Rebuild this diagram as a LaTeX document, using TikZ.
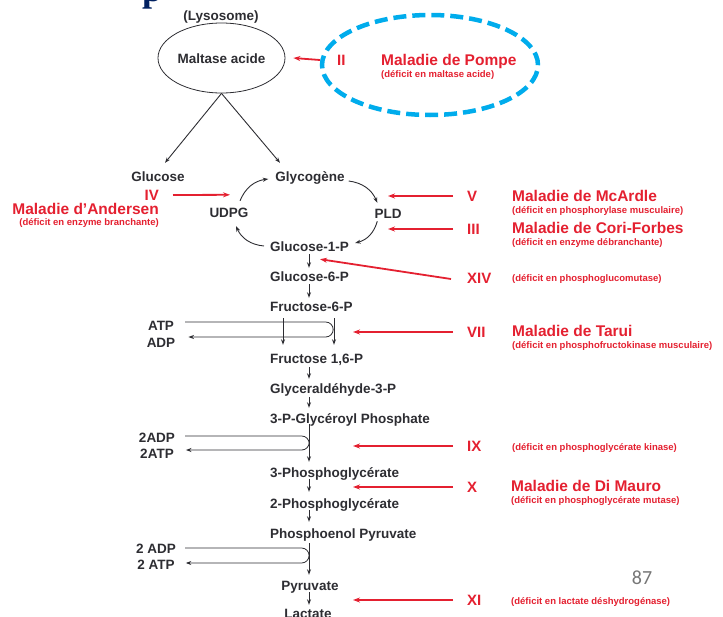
\documentclass[tikz,border=0pt]{standalone}
\usepackage{fontspec}
\setmainfont{Liberation Sans}
\newfontfamily\titleserif{Liberation Serif}
\newfontfamily\slidenum{Carlito}
\usetikzlibrary{arrows.meta,shapes.geometric}

\definecolor{ink}{RGB}{45,45,50}
\definecolor{redc}{RGB}{228,32,48}
\definecolor{ringblue}{RGB}{0,172,236}
\definecolor{navy}{RGB}{0,32,96}
\definecolor{pagegray}{RGB}{118,118,118}

\begin{document}
\begin{tikzpicture}[x=1pt,y=-1pt,
  lbl/.style={font=\bfseries\fontsize{13.5}{15}\selectfont, text=ink,
              inner sep=0pt, text height=10pt, text depth=0pt},
  rtitle/.style={font=\bfseries\fontsize{15.5}{17}\selectfont, text=redc,
              inner sep=0pt, text height=11pt, text depth=0pt},
  rsub/.style={font=\bfseries\fontsize{9.5}{11}\selectfont, text=redc,
              inner sep=0pt, text height=7pt, text depth=0pt},
  rom/.style={font=\bfseries\fontsize{15}{17}\selectfont, text=redc,
              inner sep=0pt, text height=11pt, text depth=0pt, anchor=west},
  blk/.style={draw=ink, line width=0.9pt, -{Stealth[length=5.5pt,width=4pt]}},
  loopln/.style={draw=ink, line width=0.8pt, rounded corners=7.5pt,
              -{Stealth[length=5.5pt,width=4pt]}},
  redarr/.style={draw=redc, line width=1.8pt, -{Stealth[length=7pt,width=5pt]}},
  cyc/.style={draw=ink, line width=0.9pt, bend left=30, -{Stealth[length=5.5pt,width=4pt]}}]

\useasboundingbox (0,0) rectangle (723,616);

% cut-off title above the figure
\node[font=\titleserif\bfseries\fontsize{36}{40}\selectfont, text=navy,
      anchor=base west, inner sep=0pt] (ttl) at (142,1) {p};

% lysosomal branch
\node[lbl] (lys) at (221,15) {(Lysosome)};
\node[lbl, draw=ink, line width=0.8pt, ellipse, minimum width=127pt,
      minimum height=70pt] (malt) at (221.5,58) {Maltase acide};

% Pompe disease, ringed
\draw[draw=ringblue, line width=4.5pt, dash pattern=on 13pt off 6pt]
  (430,65) ellipse [x radius=108pt, y radius=50pt];
\node[rom] (ii) at (337,60) {II};
\node[rtitle, anchor=west] (pompe) at (381,60) {Maladie de Pompe};
\node[rsub, anchor=west] (pompes) at (381,74) {(déficit en maltase acide)};
\draw[redarr] ([xshift=-17pt]ii.west) -- ([xshift=8pt]malt.east);

% glycogen cycle
\node[lbl] (gluc) at (158,176) {Glucose};
\node[lbl] (glyc) at (310,176) {Glycogène};
\node[lbl] (udpg) at (229,212) {UDPG};
\node[lbl] (pld)  at (388,213) {PLD};
\node[lbl, anchor=west] (g1p) at (270,246) {Glucose-1-P};

\draw[blk] (malt.south) -- ([shift={(7,-8)}]gluc.north);
\draw[blk] (malt.south) -- ([shift={(-30,-8)}]glyc.north);

\draw[cyc] ([shift={(4,5)}]glyc.east) to ([shift={(3,-5)}]pld.north west);
\draw[cyc] ([shift={(3,3)}]pld.south west) to ([shift={(6,-3)}]g1p.east);
\draw[cyc] ([shift={(-6,0)}]g1p.west) to ([shift={(7,9)}]udpg.south);
\draw[cyc] ([shift={(11,-6)}]udpg.north) to ([shift={(-7,3)}]glyc.west);

% main pathway
\coordinate (ax) at (309,0);
\coordinate (barL) at (283,0);
\coordinate (barR) at (334,0);
\coordinate (tipx) at (353,0);

\node[lbl, anchor=west] (g6p)  at (270,276) {Glucose-6-P};
\node[lbl, anchor=west] (f6p)  at (270,306) {Fructose-6-P};
\node[lbl, anchor=west] (f16p) at (270,358) {Fructose 1,6-P};
\node[lbl, anchor=west] (gap)  at (270,388) {Glyceraldéhyde-3-P};
\node[lbl, anchor=west] (pgp)  at (270,418) {3-P-Glycéroyl Phosphate};
\node[lbl, anchor=west] (pg3)  at (270,472) {3-Phosphoglycérate};
\node[lbl, anchor=west] (pg2)  at (270,503) {2-Phosphoglycérate};
\node[lbl, anchor=west] (pep)  at (270,533) {Phosphoenol Pyruvate};
\node[lbl] (pyr) at (310,585) {Pyruvate};
\node[lbl] (lac) at (308,613) {Lactate};

\draw[blk, shorten <=3pt, shorten >=3pt] (g1p.south -| ax) -- (g6p.north -| ax);
\draw[blk, shorten <=3pt, shorten >=3pt] (g6p.south -| ax) -- (f6p.north -| ax);
\draw[blk, shorten <=7pt, shorten >=8pt] (f6p.south -| barL) -- (f16p.north -| barL);
\draw[blk, shorten <=7pt, shorten >=8pt] (f6p.south -| barR) -- (f16p.north -| barR);
\draw[blk, shorten <=4pt, shorten >=4pt] (f16p.south -| ax) -- (gap.north -| ax);
\draw[blk, shorten <=4pt, shorten >=5pt] (gap.south -| ax) -- (pgp.north -| ax);
\draw[blk, shorten <=1pt, shorten >=5pt] (pgp.south -| ax) -- (pg3.north -| ax);
\draw[blk, shorten <=2pt, shorten >=6pt] (pg3.south -| ax) -- (pg2.north -| ax);
\draw[blk, shorten <=2pt, shorten >=6pt] (pg2.south -| ax) -- (pep.north -| ax);
\draw[blk, shorten <=5pt, shorten >=5pt] (pep.south -| ax) -- (pyr.north -| ax);
\draw[blk, shorten <=2pt, shorten >=3pt] (pyr.south -| ax) -- (lac.north -| ax);

% cofactor loops
\node[lbl] (atp)   at (161,325) {ATP};
\node[lbl] (adp)   at (161,342) {ADP};
\node[lbl] (adp2)  at (157,437) {2ADP};
\node[lbl] (atp2)  at (157,453) {2ATP};
\node[lbl] (adp2s) at (156,548) {2 ADP};
\node[lbl] (atp2s) at (156,564) {2 ATP};

\draw[loopln] ([shift={(11,-3)}]atp.east) -- ++(148,0) |- ([shift={(13,-5)}]adp.east);
\draw[loopln] ([shift={(10,-1)}]adp2.east) -- ++(124,0) |- ([shift={(12,-3)}]atp2.east);
\draw[loopln] ([shift={(9,0)}]adp2s.east) -- ++(124,0) |- ([shift={(11,-1)}]atp2s.east);

% Andersen disease
\node[rom, anchor=east] (iv) at (159,195) {IV};
\node[rtitle, anchor=east] (anders) at (159,209) {Maladie d'Andersen};
\node[rsub, anchor=east] (anderss) at (159,222) {(déficit en enzyme branchante)};
\draw[redarr] ([xshift=14pt]iv.east) -- ([shift={(1,-12)}]udpg.north);

% McArdle disease
\node[rom] (v) at (467,196) {V};
\node[rtitle, anchor=west] (mcard) at (512,196) {Maladie de McArdle};
\node[rsub, anchor=west] (mcards) at (512,210) {(déficit en phosphorylase musculaire)};
\draw[redarr] ([xshift=-14pt]v.west) -- (pld |- v.west);

% Cori-Forbes disease
\node[rom] (iii) at (467,229) {III};
\node[rtitle, anchor=west] (cori) at (512,228) {Maladie de Cori-Forbes};
\node[rsub, anchor=west] (coris) at (512,242) {(déficit en enzyme débranchante)};
\draw[redarr] ([xshift=-14pt]iii.west) -- (pld |- iii.west);

% phosphoglucomutase deficiency
\node[rom] (xiv) at (467,278) {XIV};
\node[rsub, anchor=west] (xivs) at (512,278) {(déficit en phosphoglucomutase)};
\draw[redarr] ([shift={(-16,1)}]xiv.west) -- ([shift={(50,8)}]g1p.south west);

% Tarui disease
\node[rom] (vii) at (467,332) {VII};
\node[rtitle, anchor=west] (tarui) at (512,331) {Maladie de Tarui};
\node[rsub, anchor=west] (taruis) at (512,345) {(déficit en phosphofructokinase musculaire)};
\draw[redarr] ([xshift=-14pt]vii.west) -- (tipx |- vii.west);

% phosphoglycerate kinase deficiency
\node[rom] (ix) at (467,446) {IX};
\node[rsub, anchor=west] (ixs) at (512,447) {(déficit en phosphoglycérate kinase)};
\draw[redarr] ([xshift=-14pt]ix.west) -- (tipx |- ix.west);

% Di Mauro disease
\node[rom] (x) at (467,487) {X};
\node[rtitle, anchor=west] (dimauro) at (511,486) {Maladie de Di Mauro};
\node[rsub, anchor=west] (dimauros) at (511,500) {(déficit en phosphoglycérate mutase)};
\draw[redarr] ([xshift=-14pt]x.west) -- (tipx |- x.west);

% lactate dehydrogenase deficiency
\node[rom] (xi) at (467,600) {XI};
\node[rsub, anchor=west] (xis) at (511,601) {(déficit en lactate déshydrogénase)};
\draw[redarr] ([xshift=-14pt]xi.west) -- (tipx |- xi.west);

% slide number
\node[font=\slidenum\fontsize{20}{22}\selectfont, text=pagegray] (pgnum) at (642,578) {87};

\end{tikzpicture}
\end{document}
